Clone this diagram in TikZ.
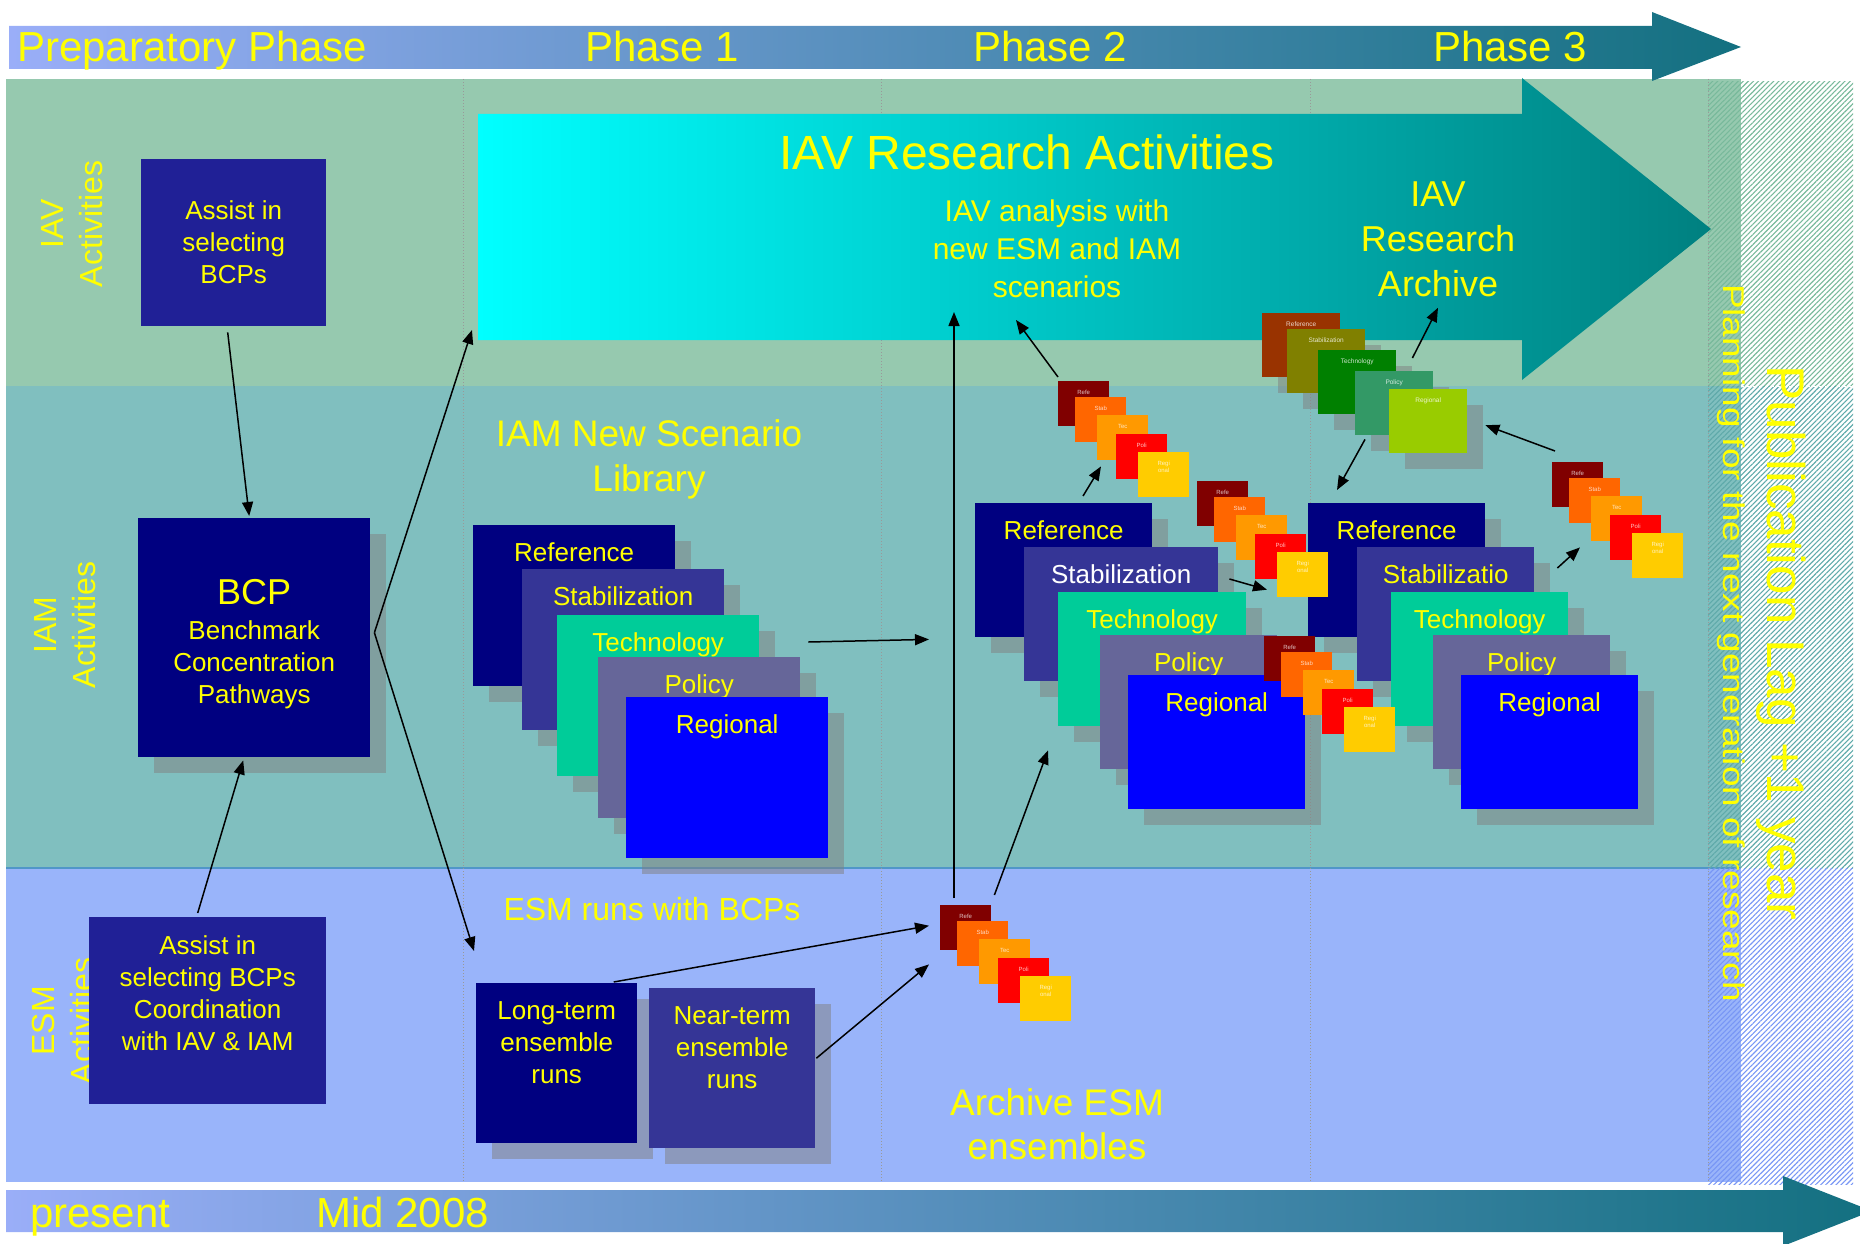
\documentclass[tikz,border=0pt]{standalone}
\usepackage{fontspec}
\setmainfont{Liberation Sans}
\newfontfamily\widefont[FakeStretch=1.23]{Liberation Sans}
\usetikzlibrary{arrows.meta,positioning,shadows,patterns.meta}
\newcommand{\fsz}[2]{\fontsize{#1}{#2}\selectfont}

\definecolor{iavband}{RGB}{150,201,175}
\definecolor{iamband}{RGB}{128,191,191}
\definecolor{esmband}{RGB}{153,180,250}
\definecolor{splitline}{RGB}{80,150,200}
\definecolor{hatchiav}{RGB}{120,185,155}
\definecolor{hatchiam}{RGB}{95,170,170}
\definecolor{hatchesm}{RGB}{120,150,245}
\definecolor{phasel}{RGB}{154,174,248}
\definecolor{phaser}{RGB}{19,112,128}
\definecolor{cyanl}{RGB}{0,255,255}
\definecolor{cyanr}{RGB}{0,128,128}
\definecolor{yellowtxt}{RGB}{255,255,0}
\definecolor{assistc}{RGB}{32,32,150}
\definecolor{refc}{RGB}{0,0,128}
\definecolor{stabc}{RGB}{53,53,150}
\definecolor{techc}{RGB}{0,204,153}
\definecolor{polc}{RGB}{102,102,153}
\definecolor{regc}{RGB}{0,0,255}
\definecolor{chipa}{RGB}{128,0,0}
\definecolor{chipb}{RGB}{255,102,0}
\definecolor{chipc}{RGB}{255,153,0}
\definecolor{chipd}{RGB}{255,0,0}
\definecolor{chipe}{RGB}{255,204,0}
\definecolor{arca}{RGB}{153,51,0}
\definecolor{arcb}{RGB}{128,128,0}
\definecolor{arcc}{RGB}{0,128,0}
\definecolor{arcd}{RGB}{51,153,102}
\definecolor{arce}{RGB}{153,204,0}

\tikzstyle{lagstripes}=[
	pattern={Lines[angle=45,distance=3.6pt,line width=1.1pt]}
]
\tikzstyle{phaseline}=[
	dotted,
	line width=1pt,
	gray!80
]
\tikzstyle{phaselabel}=[
	anchor=base west,
	inner sep=0pt,
	text=yellowtxt,
	font=\fsz{42}{48}
]
\tikzstyle{sidelabel}=[
	rotate=90,
	align=center,
	inner sep=0pt,
	text=yellowtxt,
	font=\fsz{32}{39}
]
\tikzstyle{headline}=[
	align=center,
	inner sep=0pt,
	text=yellowtxt
]
\tikzstyle{bigbox}=[
	rectangle,
	anchor=north west,
	inner sep=0pt,
	align=center,
	text=yellowtxt,
	font=\fsz{26}{32}
]
\tikzstyle{shadowed}=[
	general shadow={shadow xshift=16pt,shadow yshift=-16pt,fill=gray,opacity=0.5}
]
\tikzstyle{boxtext}=[
	align=center,
	inner sep=0pt,
	text=yellowtxt,
	font=\fsz{26}{32}
]
\tikzstyle{cardtext}=[
	anchor=north,
	yshift=-17pt,
	inner sep=0pt,
	text=yellowtxt,
	font=\fsz{26}{32}
]
\tikzstyle{bigcard}=[
	bigbox,
	shadowed,
	minimum width=202pt,
	minimum height=161pt
]
\tikzstyle{card}=[
	bigbox,
	shadowed,
	minimum width=177pt,
	minimum height=134pt
]
\tikzstyle{arccard}=[
	rectangle,
	anchor=north west,
	inner sep=0pt,
	shadowed,
	minimum width=78pt,
	minimum height=64pt
]
\tikzstyle{arctext}=[
	anchor=north,
	yshift=-9pt,
	inner sep=0pt,
	text=white,
	text opacity=0.8,
	font=\fsz{6.5}{8}
]
\tikzstyle{chip}=[
	rectangle,
	anchor=north west,
	inner sep=0pt,
	minimum width=51pt,
	minimum height=45pt
]
\tikzstyle{chiptext}=[
	anchor=north,
	yshift=-9pt,
	inner sep=0pt,
	align=center,
	text=white,
	text opacity=0.75,
	font=\fsz{6}{7}
]
\tikzstyle{flow}=[
	-{Triangle[length=14pt,width=11pt]},
	line width=1.5pt,
	black
]

\begin{document}
\begin{tikzpicture}[x=1pt,y=-1pt]
\clip (0,0) rectangle (1860,1244);
% activity bands
\fill[iavband] (6,79) rectangle (1741,386);
\fill[iamband] (6,386) rectangle (1741,868);
\fill[esmband] (6,868) rectangle (1741,1182);
\draw[splitline,line width=2pt] (6,868) -- (1741,868);
% publication lag column
\fill[lagstripes,pattern color=hatchiav] (1708,82) rectangle (1853,386);
\fill[lagstripes,pattern color=hatchiam] (1708,386) rectangle (1853,868);
\fill[lagstripes,pattern color=hatchesm] (1708,868) rectangle (1853,1184);
\draw[white,dashed,line width=1pt] (1741,386) -- (1853,386);
\foreach \gx in {463,881,1310,1708}
	\draw[phaseline] (\gx,79) -- (\gx,1182);

% time arrows
\shade[left color=phasel,right color=phaser] (9,26) -- (1652,26) -- (1652,12) -- (1741,47) -- (1652,81) -- (1652,69) -- (9,69) -- cycle;
\shade[left color=phasel,right color=phaser] (6,1190) -- (1783,1190) -- (1783,1176) -- (1872,1211) -- (1783,1246) -- (1783,1232) -- (6,1232) -- cycle;
\node[phaselabel] (prep) at (17,62) {Preparatory Phase};
\node[phaselabel] (phaseA) at (585,62) {Phase 1};
\node[phaselabel] (phaseB) at (973,62) {Phase 2};
\node[phaselabel] (phaseC) at (1433,62) {Phase 3};
\node[phaselabel] (present) at (30,1227) {present};
\node[phaselabel] (mid) at (316,1227) {Mid 2008};

% IAV research arrow
\shade[left color=cyanl,right color=cyanr] (478,114) -- (1522,114) -- (1522,78) -- (1711,229) -- (1522,380) -- (1522,340) -- (478,340) -- cycle;
\coordinate (iavSW) at (478,340);
\node[headline,font=\fsz{48}{56}] (iavTitle) at (1027,152) {IAV Research Activities};
\node[headline,font=\fsz{30}{38}] (iavAn) at (1057,249) {IAV analysis with\\new ESM and IAM\\scenarios};
\node[headline,font=\fsz{36}{45}] (iavArch) at (1438,239) {IAV\\Research\\Archive};

% row labels
\node[sidelabel] (iavlab) at (72,224) {IAV\\Activities};
\node[sidelabel] (iamlab) at (65,625) {IAM\\Activities};
\node[sidelabel] (esmlab) at (63,1021) {ESM\\Activities};

% preparatory boxes
\node[bigbox,fill=assistc,minimum width=185pt,minimum height=167pt] (assistIAV) at (141,159) {Assist in\\selecting\\BCPs};
\node[bigbox,shadowed,fill=refc,minimum width=232pt,minimum height=239pt,
	label={[boxtext,yshift=-6pt]center:{\fsz{36}{40}BCP}\\[3pt]Benchmark\\Concentration\\Pathways}] (bcp) at (138,518) {};
\node[bigbox,fill=assistc,minimum width=237pt,minimum height=187pt,
	label={[boxtext,yshift=18pt]center:Assist in\\selecting BCPs\\Coordination\\with IAV \& IAM}] (assistESM) at (89,917) {};

% phase 1
\node[headline,font=\fsz{37}{45}] (libTitle) at (649,459) {IAM New Scenario\\Library};
\node[bigcard,fill=refc,label={[cardtext]north:Reference}] (refL) at (473,525) {};
\node[bigcard,fill=stabc,label={[cardtext]north:Stabilization}] (stabL) at (522,569) {};
\node[bigcard,fill=techc,label={[cardtext]north:Technology}] (techL) at (557,615) {};
\node[bigcard,fill=polc,label={[cardtext]north:Policy}] (polL) at (598,657) {};
\node[bigcard,fill=regc,label={[cardtext]north:Regional}] (regL) at (626,697) {};
\node[headline,font=\fsz{32}{38}] (esmRuns) at (652,909) {ESM runs with BCPs};
\node[bigbox,shadowed,fill=refc,minimum width=161pt,minimum height=160pt,
	label={[boxtext,yshift=21pt]center:Long-term\\ensemble\\runs}] (longterm) at (476,983) {};
\node[bigbox,shadowed,fill=stabc,minimum width=166pt,minimum height=160pt,
	label={[boxtext,yshift=21pt]center:Near-term\\ensemble\\runs}] (nearterm) at (649,988) {};

% phase 2
\node[card,fill=refc,label={[cardtext]north:Reference}] (refM) at (975,503) {};
\node[card,fill=stabc,minimum width=194pt,label={[cardtext,text=white]north:Stabilization}] (stabM) at (1024,547) {};
\node[card,fill=techc,minimum width=188pt,label={[cardtext]north:Technology}] (techM) at (1058,592) {};
\node[card,fill=polc,label={[cardtext]north:Policy}] (polM) at (1100,635) {};
\node[card,fill=regc,label={[cardtext]north:Regional}] (regM) at (1128,675) {};
\node[headline,font=\fsz{37}{44}] (archESM) at (1057,1124) {Archive ESM\\ensembles};

% phase 3
\node[card,fill=refc,label={[cardtext]north:Reference}] (refR) at (1308,503) {};
\node[card,fill=stabc,label={[cardtext]north:Stabilizatio}] (stabR) at (1357,547) {};
\node[card,fill=techc,label={[cardtext]north:Technology}] (techR) at (1391,592) {};
\node[card,fill=polc,label={[cardtext]north:Policy}] (polR) at (1433,635) {};
\node[card,fill=regc,label={[cardtext]north:Regional}] (regR) at (1461,675) {};

% research archive
\node[arccard,fill=arca,label={[arctext]north:Reference}] (refA) at (1262,313) {};
\node[arccard,fill=arcb,label={[arctext]north:Stabilization}] (stabA) at (1287,329) {};
\node[arccard,fill=arcc,label={[arctext]north:Technology}] (techA) at (1318,350) {};
\node[arccard,fill=arcd,label={[arctext]north:Policy}] (polA) at (1355,371) {};
\node[arccard,fill=arce,label={[arctext]north:Regional}] (regA) at (1389,389) {};

% small scenario sets
\foreach \sx/\sy/\sn in {940/905/s1,1058/381/s2,1197/481/s3,1264/636/s4,1552/462/s5}{
	\node[chip,fill=chipa,label={[chiptext]north:Refe}] (\sn-a) at (\sx,\sy) {};
	\node[chip,fill=chipb,label={[chiptext]north:Stab}] (\sn-b) at (\sx+17,\sy+16) {};
	\node[chip,fill=chipc,label={[chiptext]north:Tec}] (\sn-c) at (\sx+39,\sy+34) {};
	\node[chip,fill=chipd,label={[chiptext]north:Poli}] (\sn-d) at (\sx+58,\sy+53) {};
	\node[chip,fill=chipe,label={[chiptext]north:Regi\\onal}] (\sn-e) at (\sx+80,\sy+71) {};
}

% connectors
\coordinate (bcpout) at ([xshift=4pt,yshift=5pt]bcp.east);
\coordinate (iavin) at (954,312);
\coordinate (scenin) at (1016,320);
\draw[flow] ([xshift=-6pt,yshift=-6pt]assistIAV.south) -- ([xshift=-5pt,yshift=2pt]bcp.north);
\draw[flow] ([xshift=-10pt,yshift=4pt]assistESM.north) -- ([xshift=-11pt,yshift=-3pt]bcp.south);
\draw[flow] (bcpout) -- ([xshift=-6pt,yshift=10pt]iavSW);
\draw[flow] (bcpout) -- ([xshift=-2pt,yshift=32pt]longterm.north west);
\draw[flow] ([xshift=8pt,yshift=15pt]polL.north east) -- ([xshift=-46pt,yshift=-2pt]refM.south west);
\draw[flow] ([xshift=57pt,yshift=1pt]longterm.north) -- ([xshift=-11pt,yshift=2pt]s1-a.west);
\draw[flow] ([xshift=1pt,yshift=10pt]nearterm.east) -- ([xshift=-11pt,yshift=-14pt]s1-a.south west);
\draw[flow] ([xshift=14pt,yshift=7pt]s1-a.north west) -- (iavin);
\draw[flow] ([xshift=3pt,yshift=10pt]s1-a.north east) -- ([xshift=-10pt,yshift=-24pt]techM.south west);
\draw[flow] ([yshift=4pt]s2-a.north west) -- (scenin);
\draw[flow] ([xshift=108pt,yshift=7pt]refM.north west) -- ([xshift=4pt,yshift=-6pt]s2-c.south west);
\draw[flow] ([xshift=11pt,yshift=-32pt]stabM.north east) -- ([xshift=-10pt,yshift=-15pt]s3-e.west);
\draw[flow] ([xshift=16pt,yshift=-8pt]techA.north east) -- ([yshift=-11pt]iavArch.south);
\draw[flow] ([xshift=10pt,yshift=-4pt]polA.south west) -- ([xshift=29pt,yshift=13pt]refR.north west);
\draw[flow] ([xshift=3pt,yshift=11pt]s5-a.north west) -- ([xshift=18pt,yshift=-4pt]regA.east);
\draw[flow] ([xshift=23pt,yshift=-21pt]stabR.north east) -- ([xshift=-11pt,yshift=-6pt]s5-c.south west);

% publication lag texts
\node[headline,rotate=-90,font=\widefont\fsz{30}{36}] (planning) at (1731,643) {Planning for the next generation of research};
\node[headline,rotate=-90,font=\fsz{53}{60}] (publag) at (1781,643) {Publication Lag +1 year};
\end{tikzpicture}
\end{document}
